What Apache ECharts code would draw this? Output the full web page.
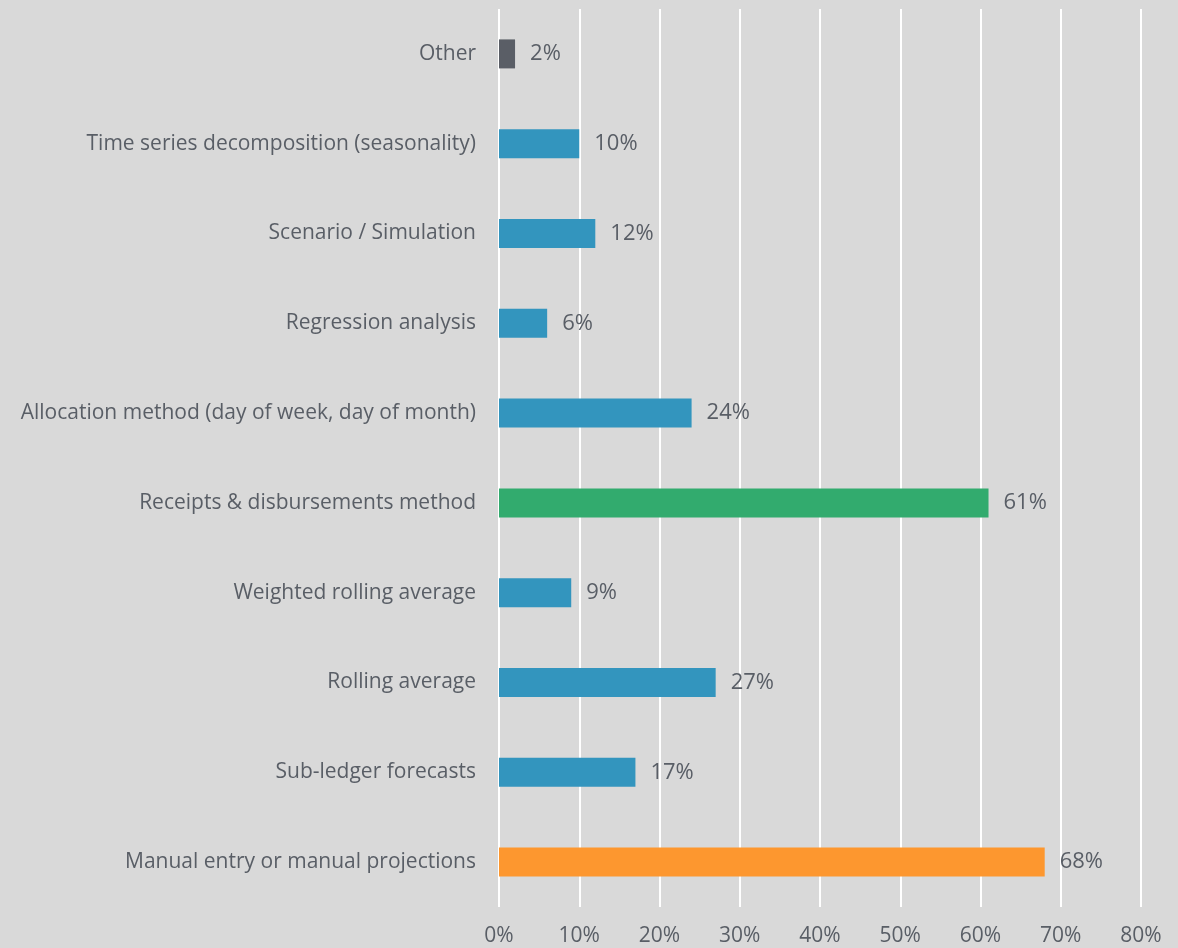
<!DOCTYPE html>
<html>
<head>
<meta charset="utf-8">
<title>Forecasting methods</title>
<script src="https://cdn.jsdelivr.net/npm/echarts@6/dist/echarts.min.js"></script>
<style>
  html, body { margin: 0; padding: 0; background: #d9d9d9; }
  #chart { width: 1178px; height: 948px; }
</style>
</head>
<body>
<div id="chart"></div>
<script>
// Methods, listed bottom to top as they appear on the category axis
const methods = [
  'Manual entry or manual projections',
  'Sub-ledger forecasts',
  'Rolling average',
  'Weighted rolling average',
  'Receipts & disbursements method',
  'Allocation method (day of week, day of month)',
  'Regression analysis',
  'Scenario / Simulation',
  'Time series decomposition (seasonality)',
  'Other'
];
// Share of respondents using each method (%)
const shares = [68, 17, 27, 9, 61, 24, 6, 12, 10, 2];
// Bar colours per method
const barColors = ['#fd972f', '#3395be', '#3395be', '#3395be', '#32ab6e',
                   '#3395be', '#3395be', '#3395be', '#3395be', '#5a5e66'];
// Percent axis ticks
const xTicks = [0, 10, 20, 30, 40, 50, 60, 70, 80];

const textColor = '#595e66';
const font = '"Open Sans", "Noto Sans", sans-serif';

const chart = echarts.init(document.getElementById('chart'), null, { renderer: 'canvas' });
chart.setOption({
  backgroundColor: '#d9d9d9',
  animation: false,
  grid: { left: 499, right: 37, top: 9, bottom: 41, containLabel: false },
  xAxis: {
    type: 'value',
    min: xTicks[0],
    max: xTicks[xTicks.length - 1],
    interval: xTicks[1] - xTicks[0],
    axisLine: { show: false },
    axisTick: { show: false },
    splitLine: { show: true, lineStyle: { color: '#ffffff', width: 2 } },
    axisLabel: {
      formatter: v => v + '%',
      color: textColor, fontSize: 21, fontFamily: font, margin: 19
    }
  },
  yAxis: {
    type: 'category',
    data: methods,
    axisLine: { show: false },
    axisTick: { show: false },
    splitLine: { show: false },
    axisLabel: { color: textColor, fontSize: 21, fontFamily: font, margin: 23 }
  },
  series: [{
    type: 'bar',
    data: shares.map((v, i) => ({ value: v, itemStyle: { color: barColors[i] } })),
    barWidth: 29,
    label: {
      show: true,
      position: 'right',
      distance: 15,
      formatter: p => p.value + '%',
      color: textColor, fontSize: 22, fontFamily: font
    }
  }]
});
</script>
</body>
</html>
